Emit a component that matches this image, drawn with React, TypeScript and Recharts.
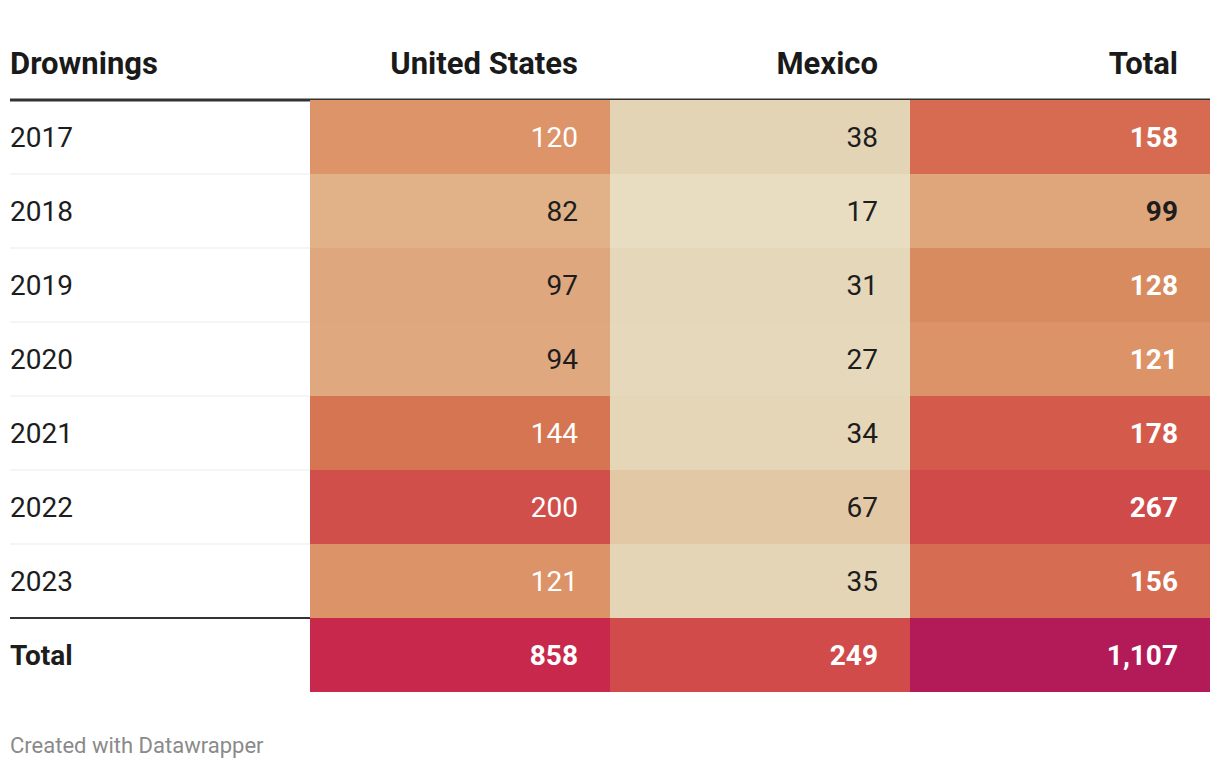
import React from 'react';
import { ScatterChart, Scatter, XAxis, YAxis, ReferenceLine } from 'recharts';

const columns = ['Drownings', 'United States', 'Mexico', 'Total'];
const years = ['2017', '2018', '2019', '2020', '2021', '2022', '2023'];
const unitedStates = [120, 82, 97, 94, 144, 200, 121];
const mexico = [38, 17, 31, 27, 34, 67, 35];
const totals = [158, 99, 128, 121, 178, 267, 156];
const columnTotals = [858, 249, 1107];

// datawrapper-ish colour scale, value -> colour
const colorStops: Array<[number, string]> = [
  [17, '#e8ddc1'], [31, '#e5d7b9'], [38, '#e4d4b6'], [67, '#e3c8a5'], [82, '#e1b187'],
  [94, '#e0a87f'], [99, '#dfa67c'], [120, '#dc9468'], [128, '#d88b5f'], [144, '#d67552'],
  [158, '#d66b52'], [178, '#d45b4c'], [200, '#d14f4a'], [267, '#d04a4a'],
  [858, '#c8284c'], [1107, '#b31a58'],
];

const W = 1212;
const H = 760;
const MARGIN = { top: 32, right: 10, bottom: 76, left: 2 };
const AXIS_H = 60;
const COL_W = (W - MARGIN.left - MARGIN.right) / columns.length;
const ROW_H = (H - MARGIN.top - AXIS_H - MARGIN.bottom) / (years.length + 1);
const PAD = 32;
const FONT = 'Roboto, "Noto Sans", sans-serif';

const hex = (c: string) => [1, 3, 5].map(i => parseInt(c.slice(i, i + 2), 16));

function colorFor(v: number) {
  for (let i = 1; i < colorStops.length; i++) {
    const [v0, c0] = colorStops[i - 1];
    const [v1, c1] = colorStops[i];
    if (v <= v1) {
      const t = Math.max(0, (v - v0) / (v1 - v0));
      const a = hex(c0), b = hex(c1);
      return `rgb(${a.map((x, k) => Math.round(x + (b[k] - x) * t)).join(',')})`;
    }
  }
  return colorStops[colorStops.length - 1][1];
}

function isDark(rgb: string) {
  const [r, g, b] = rgb.match(/\d+/g)!.map(n => {
    const c = Number(n) / 255;
    return c <= 0.03928 ? c / 12.92 : Math.pow((c + 0.055) / 1.055, 2.4);
  });
  return 0.2126 * r + 0.7152 * g + 0.0722 * b < 0.41;
}

type CellData = { col: number; row: number; value: number | null; label: string; bold: boolean };

const cells: CellData[] = [];
years.forEach((y, i) => {
  cells.push({ col: 0.5, row: i + 0.5, value: null, label: y, bold: false });
  cells.push({ col: 1.5, row: i + 0.5, value: unitedStates[i], label: String(unitedStates[i]), bold: false });
  cells.push({ col: 2.5, row: i + 0.5, value: mexico[i], label: String(mexico[i]), bold: false });
  cells.push({ col: 3.5, row: i + 0.5, value: totals[i], label: String(totals[i]), bold: true });
});
cells.push({ col: 0.5, row: years.length + 0.5, value: null, label: 'Total', bold: true });
columnTotals.forEach((v, i) => {
  cells.push({ col: i + 1.5, row: years.length + 0.5, value: v, label: v.toLocaleString('en-US'), bold: true });
});

const CellShape = (props: any) => {
  const { cx, cy, payload } = props;
  const left = cx - COL_W / 2;
  const top = cy - ROW_H / 2;
  const fill = payload.value == null ? null : colorFor(payload.value);
  const textColor = fill && isDark(fill) ? '#ffffff' : '#1d1d1d';
  const first = payload.col < 1;
  return (
    <g>
      {fill && <rect x={left} y={top} width={COL_W} height={ROW_H} fill={fill} />}
      <text
        x={first ? left : left + COL_W - PAD}
        y={cy + 10}
        textAnchor={first ? 'start' : 'end'}
        fontFamily={FONT}
        fontSize={28}
        fontWeight={payload.bold ? 700 : 400}
        fill={textColor}
      >
        {payload.label}
      </text>
    </g>
  );
};

const HeaderTick = (props: any) => {
  const { x, payload, index } = props;
  const first = index === 0;
  return (
    <text
      x={first ? x - COL_W / 2 : x + COL_W / 2 - PAD}
      y={MARGIN.top + AXIS_H - 26}
      textAnchor={first ? 'start' : 'end'}
      fontFamily={FONT}
      fontSize={31}
      fontWeight={700}
      fill="#1a1a1a"
    >
      {columns[Math.floor(payload.value)]}
    </text>
  );
};

export default function App() {
  return (
    <div style={{ position: 'relative', width: W, height: H }}>
      <ScatterChart width={W} height={H} margin={MARGIN}>
        <XAxis
          type="number"
          dataKey="col"
          orientation="top"
          domain={[0, columns.length]}
          ticks={[0.5, 1.5, 2.5, 3.5]}
          height={AXIS_H}
          axisLine={false}
          tickLine={false}
          tick={<HeaderTick />}
          interval={0}
        />
        <YAxis type="number" dataKey="row" domain={[0, years.length + 1]} reversed hide />
        <Scatter data={cells} shape={<CellShape />} isAnimationActive={false} />
        {years.slice(1).map((_, i) => (
          <ReferenceLine key={i} y={i + 1} stroke="rgba(0,0,0,0.08)" strokeWidth={1} />
        ))}
        <ReferenceLine x={3} stroke="#333333" strokeWidth={2} />
        <ReferenceLine y={years.length} stroke="#333333" strokeWidth={2} />
        <ReferenceLine y={0} stroke="#333333" strokeWidth={3} />
      </ScatterChart>
      <div
        style={{
          position: 'absolute',
          left: 2,
          top: 727,
          fontFamily: FONT,
          fontSize: 22,
          lineHeight: '22px',
          color: '#8a8a8a',
        }}
      >
        Created with Datawrapper
      </div>
    </div>
  );
}
